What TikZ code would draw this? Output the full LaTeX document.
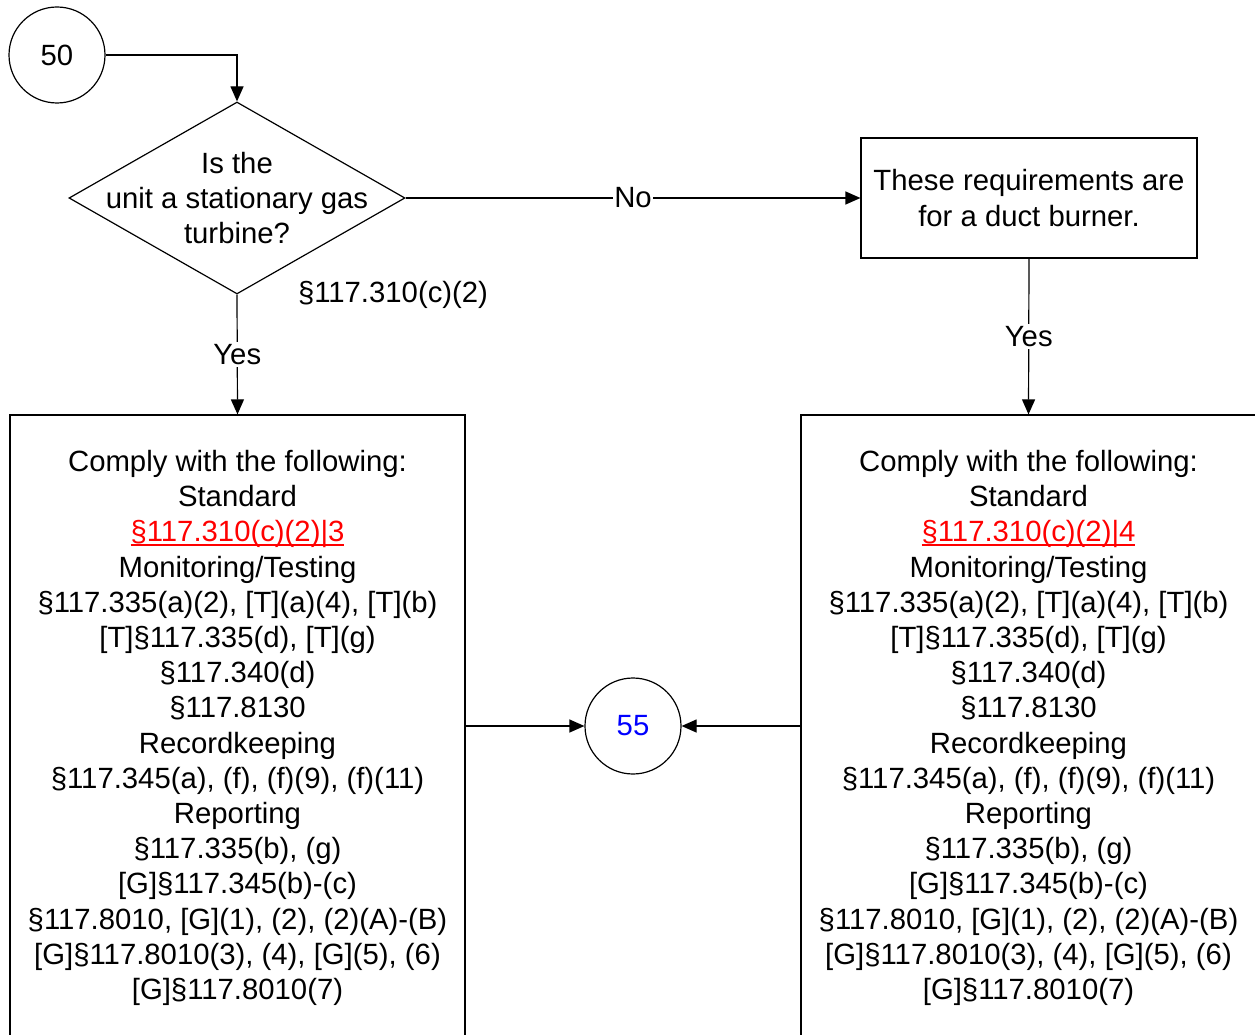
\documentclass[tikz,border=0pt]{standalone}
\usepackage{fontspec}
\setmainfont{Liberation Sans}
\usetikzlibrary{shapes.geometric, arrows.meta}

\newcommand\redlink[1]{\textcolor{red}{\setbox0\hbox{#1}\rlap{\rule[-4pt]{\wd0}{2pt}}\box0}}
\newcommand\rulelist[1]{Comply with the following:\\Standard\\
\redlink{\S117.310(c)(2)|#1}\\Monitoring/Testing\\
\S117.335(a)(2), [T](a)(4), [T](b)\\{}[T]\S117.335(d), [T](g)\\
\S117.340(d)\\\S117.8130\\Recordkeeping\\
\S117.345(a), (f), (f)(9), (f)(11)\\Reporting\\\S117.335(b), (g)\\
{}[G]\S117.345(b)-(c)\\\S117.8010, [G](1), (2), (2)(A)-(B)\\
{}[G]\S117.8010(3), (4), [G](5), (6)\\{}[G]\S117.8010(7)}

\begin{document}
\begin{tikzpicture}[x=1pt,y=-1pt,line width=1.2pt,font=\fontsize{29.3}{35.2}\selectfont,
  box/.style={draw,align=center,inner sep=0pt},
  con/.style={draw,circle,minimum size=96pt,inner sep=0pt},
  flow/.style={-{Triangle[length=15pt,width=13pt]}}]
\clip (0,0) rectangle (1255,1035);

\node[con] (c50) at (57,55) {50};
\node[draw,diamond,minimum width=336pt,minimum height=192pt,inner sep=0pt,
  label={[align=center]center:{Is the\\unit a stationary gas\\turbine?}}] (q) at (237,198) {};
\node (ref) at (393,295) {\S117.310(c)(2)};
\node[box,minimum width=336pt,minimum height=120pt] (burner) at (1029,198) {These requirements are\\for a duct burner.};

\node[box,minimum width=455pt,minimum height=626pt] (lbox) at (237.5,728) {\rulelist{3}};
\node[box,minimum width=455pt,minimum height=626pt] (rbox) at (1028.5,728) {\rulelist{4}};
\node[con,text=blue] (c55) at (633,726) {55};

\draw[flow] (c50.east) -| (q.north);
\draw[flow] (q.east) -- node[fill=white,inner sep=1pt] (no) {No} (burner.west);
\draw[flow] (q.south) -- node[fill=white,inner sep=2pt] (yesl) {Yes} (lbox.north);
\draw[flow] (burner.south) -- node[fill=white,inner sep=2pt] (yesr) {Yes} (rbox.north);
\draw[flow] (lbox.east |- c55) -- (c55.west);
\draw[flow] (rbox.west |- c55) -- (c55.east);

\end{tikzpicture}
\end{document}
